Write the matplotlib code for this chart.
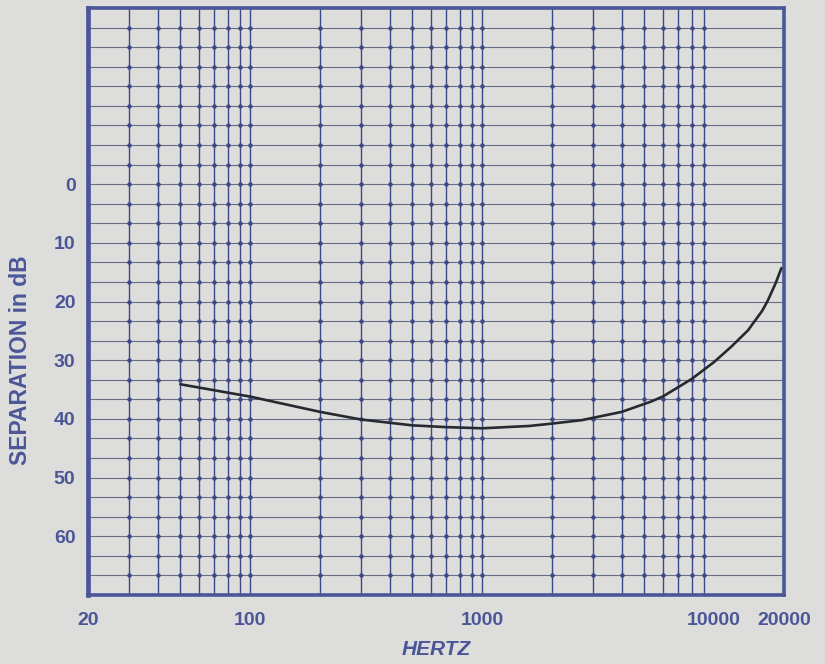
import numpy as np
import matplotlib; matplotlib.use("Agg"); import matplotlib.pyplot as plt

BG = "#dddedb"; NAVY = "#3d4888"; TXT = "#4b5699"; CURVE = "#262a30"
plt.rcParams.update({"font.family": ["Liberation Sans", "DejaVu Sans"], "font.weight": "bold"})

# separation curve (Hz, dB)
freq = [50, 100, 200, 300, 500, 700, 1000, 1600, 2000, 2700, 4000, 5300, 6000, 8000, 10000,
        11850, 14000, 16100, 17000, 18400, 19500]
sep = [34.1, 36.2, 38.8, 40.1, 41.1, 41.4, 41.6, 41.2, 40.8, 40.2, 38.8, 37.1, 36.2, 33.2, 30.3,
       27.7, 24.9, 21.6, 19.9, 16.9, 14.3]

xticks = [20, 100, 1000, 10000, 20000]
xticklabels = ["20", "100", "1000", "10000", "20000"]
yticks = [0, 10, 20, 30, 40, 50, 60]

fig = plt.figure(figsize=(8.25, 6.64), dpi=100, facecolor=BG)
ax = fig.add_axes([88/825, 1-595/664, (784-88)/825, (595-8)/664], facecolor=BG)
ax.set_xscale("log")
ax.set_xlim(20, 20000); ax.set_ylim(70, -30)

# chart-paper grid: log verticals up to 10 kHz, horizontals every 10/3 dB
vx = [m*10**e for e in (1, 2, 3) for m in range(1, 10) if 20 < m*10**e <= 10000]
hy = list(np.linspace(-30, 70, 31)[1:-1])
for v in vx: ax.axvline(v, color=NAVY, lw=1.0, zorder=1)
for h in hy: ax.axhline(h, color="#4a5070", lw=0.8, alpha=0.8, zorder=1)
gx, gy = np.meshgrid(vx, hy)
ax.plot(gx.ravel(), gy.ravel(), ls="none", marker="o", ms=3.2, color=NAVY, mew=0, zorder=2)

ax.plot(freq, sep, color=CURVE, lw=1.9, zorder=3, solid_capstyle="round")

ax.set_xticks(xticks); ax.set_xticklabels(xticklabels)
ax.xaxis.set_minor_locator(plt.NullLocator())
ax.set_yticks(yticks)
ax.tick_params(axis="both", length=0, labelsize=14, labelcolor=TXT)
ax.tick_params(axis="x", pad=12); ax.tick_params(axis="y", pad=9)
for s in ax.spines.values(): s.set_color(TXT); s.set_linewidth(2.6)
ax.spines["left"].set_linewidth(3.4)

ax.set_xlabel("HERTZ", fontsize=15, color=TXT, style="italic", fontweight="bold", labelpad=8)
ax.set_ylabel("SEPARATION in dB", fontsize=16.5, color=TXT, fontweight="bold")
ax.yaxis.set_label_coords(-0.08, 0.40)
fig.savefig("out.png", dpi=100, facecolor=BG)
